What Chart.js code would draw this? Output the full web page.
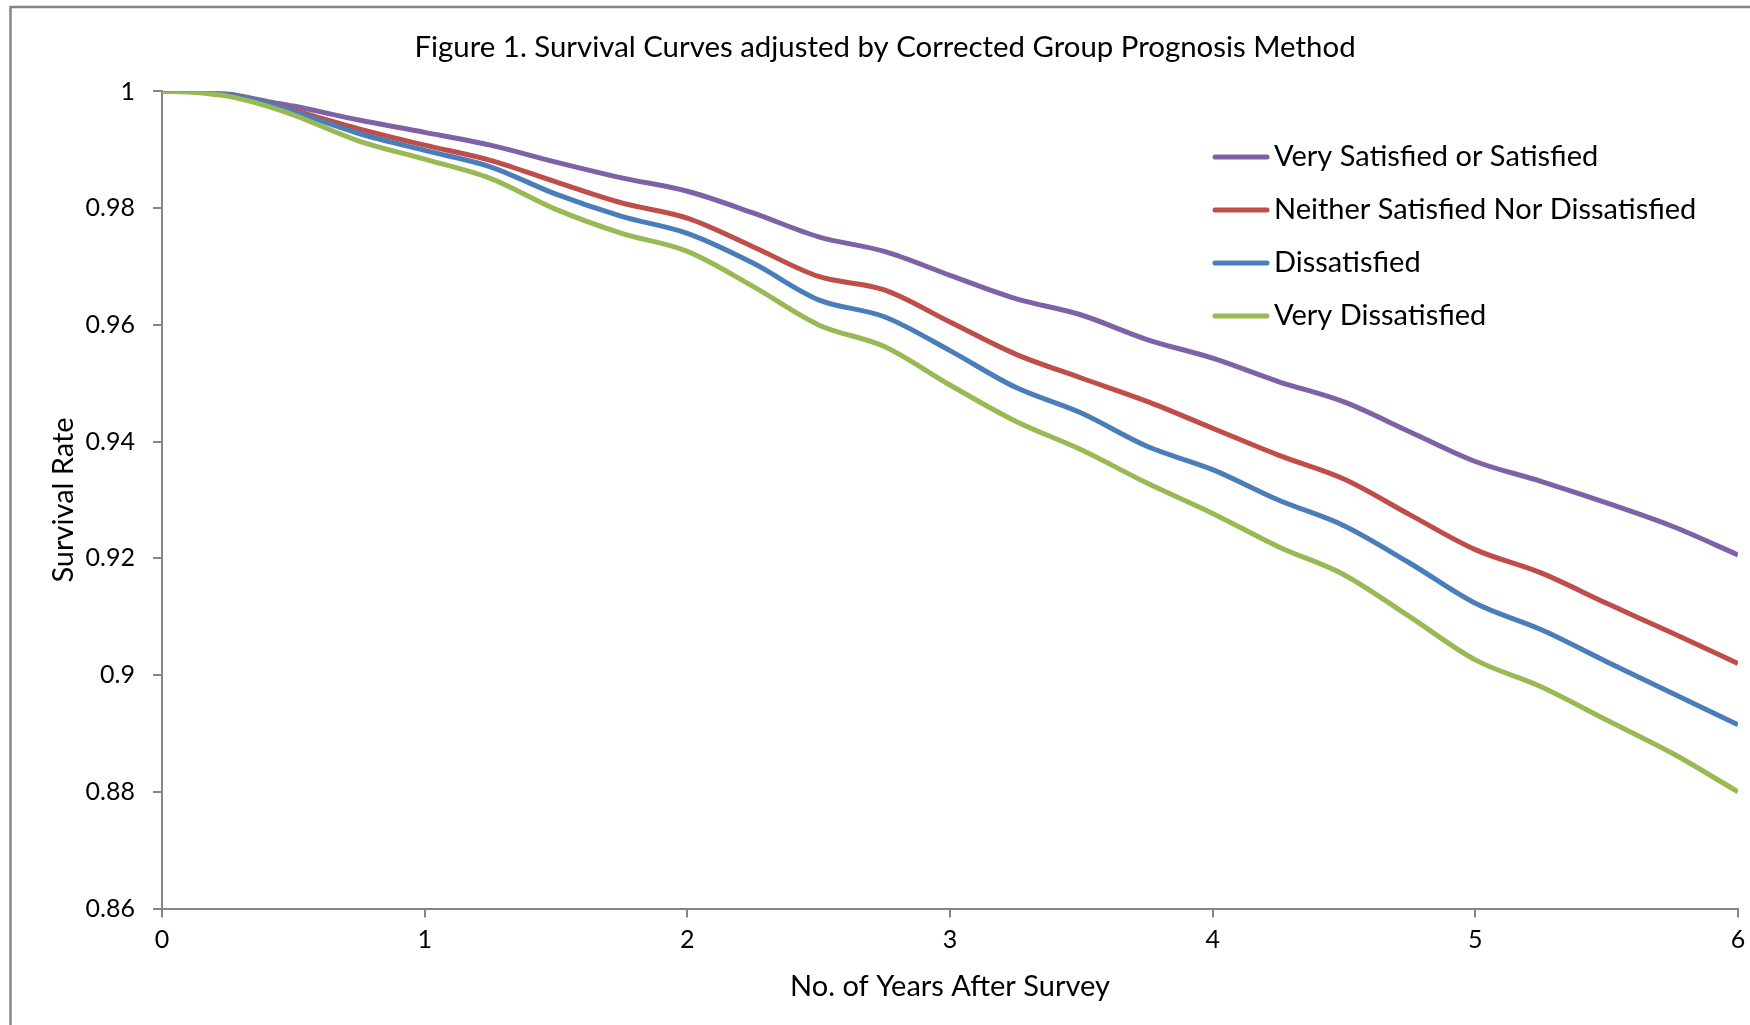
<!DOCTYPE html>
<html>
<head>
<meta charset="utf-8">
<script src="https://cdn.jsdelivr.net/npm/chart.js@4.4.1/dist/chart.umd.min.js"></script>
<style>
  html, body { margin: 0; padding: 0; background: #fff; }
  #wrap { width: 1750px; height: 1025px; }
</style>
</head>
<body>
<div id="wrap"><canvas id="myChart" width="1750" height="1025"></canvas></div>
<script>
// values (years after survey -> survival rate)
const years = [0, 0.1, 0.2, 0.25, 0.4, 0.5, 0.75, 1, 1.25, 1.5, 1.75, 2, 2.25, 2.5, 2.75, 3, 3.25, 3.5, 3.75, 4, 4.25, 4.5, 4.75, 5, 5.25, 5.5, 5.75, 6];
const verySatisfied = [1, 1, 0.9999, 0.9996, 0.9983, 0.9975, 0.9951, 0.9930, 0.9908, 0.9879, 0.9852, 0.9829, 0.9792, 0.9751, 0.9726, 0.9685, 0.9645, 0.9617, 0.9575, 0.9543, 0.9503, 0.9468, 0.9417, 0.9366, 0.9332, 0.9295, 0.9255, 0.9206];
const neither = [1, 1, 0.9998, 0.9995, 0.9981, 0.9968, 0.9936, 0.9908, 0.9882, 0.9845, 0.9809, 0.9783, 0.9734, 0.9683, 0.9660, 0.9605, 0.9550, 0.9509, 0.9469, 0.9423, 0.9377, 0.9336, 0.9275, 0.9215, 0.9175, 0.9123, 0.9072, 0.9020];
const dissatisfied = [1, 1, 0.9997, 0.9994, 0.9980, 0.9966, 0.9928, 0.9899, 0.9871, 0.9824, 0.9786, 0.9757, 0.9706, 0.9643, 0.9614, 0.9556, 0.9493, 0.9449, 0.9392, 0.9352, 0.9300, 0.9256, 0.9192, 0.9123, 0.9078, 0.9023, 0.8969, 0.8915];
const veryDissatisfied = [1, 0.9999, 0.9995, 0.9992, 0.9975, 0.9960, 0.9915, 0.9884, 0.9851, 0.9798, 0.9757, 0.9726, 0.9666, 0.9600, 0.9563, 0.9497, 0.9435, 0.9386, 0.9329, 0.9277, 0.9220, 0.9172, 0.9100, 0.9026, 0.8980, 0.8923, 0.8866, 0.8800];
const seriesNames = ["Very Satisfied or Satisfied", "Neither Satisfied Nor Dissatisfied", "Dissatisfied", "Very Dissatisfied"];
const seriesColors = ["#7F62A6", "#BF4D4A", "#4A7EBB", "#98B954"];

const FONT = "Lato, 'Open Sans', sans-serif";
const GREY = "#868686";

const allSeries = [verySatisfied, neither, dissatisfied, veryDissatisfied];
const datasets = allSeries.map((vals, i) => ({
    label: seriesNames[i],
    data: vals.map((v, k) => ({x: years[k], y: v})),
    borderColor: seriesColors[i],
    borderWidth: 5,
    pointRadius: 0,
    fill: false,
    cubicInterpolationMode: "monotone",
    order: allSeries.length - 1 - i   // later series drawn on top, like Excel
}));

// outer frame + legend drawn by hand to match the Excel layout
const framePlugin = {
    id: "frame",
    beforeDraw(chart) {
        const ctx = chart.ctx;
        ctx.save();
        ctx.fillStyle = "#fff";
        ctx.fillRect(0, 0, chart.width, chart.height);
        ctx.strokeStyle = GREY;
        ctx.lineWidth = 2.5;
        ctx.beginPath();
        ctx.moveTo(10.5, chart.height);
        ctx.lineTo(10.5, 7);
        ctx.lineTo(chart.width, 7);
        ctx.stroke();
        ctx.restore();
    },
    afterDraw(chart) {
        const ctx = chart.ctx;
        ctx.save();
        ctx.font = "29px " + FONT;
        ctx.textBaseline = "middle";
        ctx.lineCap = "round";
        chart.data.datasets.forEach((ds, i) => {
            const y = 157 + i * 53;
            ctx.strokeStyle = ds.borderColor;
            ctx.lineWidth = 5;
            ctx.beginPath();
            ctx.moveTo(1215, y);
            ctx.lineTo(1267, y);
            ctx.stroke();
            ctx.fillStyle = "#000";
            ctx.fillText(ds.label, 1274, y);
        });
        ctx.restore();
    }
};

new Chart("myChart", {
    type: "line",
    data: { datasets: datasets },
    plugins: [framePlugin],
    options: {
        responsive: false,
        animation: false,
        layout: { padding: { left: 32, right: 12, top: 0, bottom: 0 } },
        plugins: {
            legend: { display: false },
            tooltip: { enabled: false },
            title: {
                display: true,
                text: "Figure 1. Survival Curves adjusted by Corrected Group Prognosis Method",
                color: "#000",
                font: { family: FONT, size: 29.4, weight: "normal" },
                padding: { top: 29.4, bottom: 26.8 }
            }
        },
        scales: {
            x: {
                type: "linear",
                min: 0,
                max: 6,
                afterFit(scale) { scale.height = 116.5; },
                ticks: { stepSize: 1, color: "#000", padding: 4.8, font: { family: FONT, size: 25, lineHeight: 1.4 } },
                grid: { drawOnChartArea: false, drawTicks: true, tickLength: 9, color: GREY, lineWidth: 2 },
                border: { display: true, color: GREY, width: 2 },
                title: {
                    display: true,
                    text: "No. of Years After Survey",
                    color: "#000",
                    font: { family: FONT, size: 29 },
                    padding: { top: 0, bottom: 20.6 }
                }
            },
            y: {
                min: 0.86,
                max: 1,
                afterFit(scale) { scale.width = 130; },
                ticks: {
                    stepSize: 0.02,
                    color: "#000",
                    padding: 18,
                    font: { family: FONT, size: 25 },
                    callback: v => String(+v.toFixed(2))
                },
                grid: { drawOnChartArea: false, drawTicks: true, tickLength: 9, color: GREY, lineWidth: 2 },
                border: { display: true, color: GREY, width: 2 },
                title: {
                    display: true,
                    text: "Survival Rate",
                    color: "#000",
                    font: { family: FONT, size: 29 },
                    padding: { top: 14.6, bottom: 0 }
                }
            }
        }
    }
});
</script>
</body>
</html>
